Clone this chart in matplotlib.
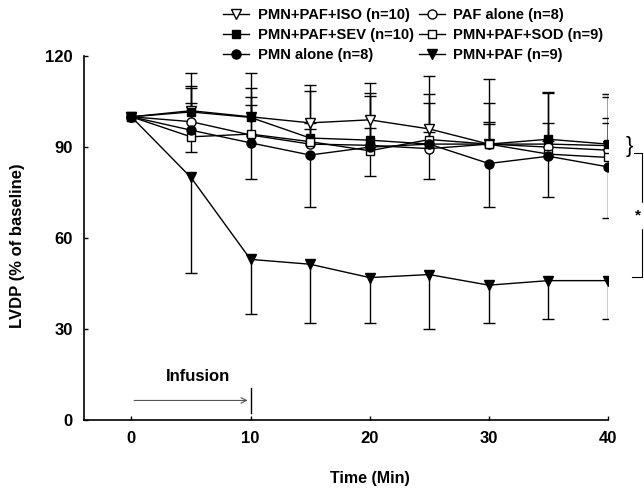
import matplotlib
matplotlib.use("Agg")
import matplotlib.pyplot as plt
import numpy as np

plt.rcParams['font.family'] = ['Liberation Sans', 'DejaVu Sans']
plt.rcParams['font.weight'] = 'bold'

time = [0, 5, 10, 15, 20, 25, 30, 35, 40]

labels = ["PMN+PAF+ISO (n=10)", "PAF alone (n=8)", "PMN+PAF+SEV (n=10)",
          "PMN+PAF+SOD (n=9)", "PMN alone (n=8)", "PMN+PAF (n=9)"]

iso_mean = [100, 102, 100, 98, 99, 96, 91, 91, 90.5]
paf_mean = [100, 98.4, 94, 91, 90.6, 89.5, 91, 90, 89]
sev_mean = [100, 101.6, 99.8, 93, 92.3, 91, 91, 92.6, 91]
sod_mean = [100, 93.4, 94.3, 91.8, 88.8, 92.5, 91, 87.7, 86.6]
pmn_mean = [100, 95.6, 91.4, 87.4, 90, 91, 84.6, 87, 83.5]
pmnpaf_mean = [100, 80, 53, 51.4, 47, 48, 44.5, 46, 46]

# error bar ends (upper for first four groups, lower for last two)
iso_top = [100, 114.4, 114.5, 110.5, 111, 113.5, 112.4, 108.3, 107.4]
sev_top = [100, 110, 109.5, 108.6, 107.7, 107.4, 104.5, 107.7, 106.6]
paf_top = [100, 109.5, 106.5, 98, 106.8, 104.5, 98.4, 97.9, 99.6]
sod_top = [100, 104.5, 104, 96, 96.3, 95, 97.6, 92, 97.9]
pmn_bot = [100, 88.4, 79.5, 70.2, 80.4, 79.5, 70.2, 73.5, 66.7]
pmnpaf_bot = [100, 48.5, 35, 32, 32, 30, 32, 33.5, 33.5]

fig = plt.figure(figsize=(6.44, 4.88), dpi=100)
ax = fig.add_axes([0.130, 0.139, 0.814, 0.746])

series = [
    (iso_mean, iso_top, 'v', 'white', labels[0]),
    (paf_mean, paf_top, 'o', 'white', labels[1]),
    (sev_mean, sev_top, 's', 'black', labels[2]),
    (sod_mean, sod_top, 's', 'white', labels[3]),
    (pmn_mean, pmn_bot, 'o', 'black', labels[4]),
    (pmnpaf_mean, pmnpaf_bot, 'v', 'black', labels[5]),
]

sizes = {'v': 7.5, 'o': 6.5, 's': 6.0}
handles = {}
for i, (m, e, mk, fc, lab) in enumerate(series):
    t = np.array(time[1:])
    ax.vlines(t, np.array(m[1:]), np.array(e[1:]), color='black', lw=1.0, zorder=2)
    ax.plot(t, e[1:], ls='none', marker='_', ms=8, mew=1.0, color='black', zorder=2)
    h, = ax.plot(time, m, color='black', lw=1.0, marker=mk, ms=sizes[mk],
                 mfc=fc, mec='black', mew=1.0, zorder=3 + i, label=lab)
    handles[lab] = h

ax.set_xlim(-4, 40)
ax.set_ylim(0, 120)
ax.set_xticks([0, 10, 20, 30, 40])
ax.set_yticks([0, 30, 60, 90, 120])
for s in ['top', 'right']:
    ax.spines[s].set_visible(False)
for s in ['left', 'bottom']:
    ax.spines[s].set_linewidth(1.2)
ax.tick_params(direction='in', length=3, width=1, labelsize=12, pad=8)
for lbl in ax.get_xticklabels() + ax.get_yticklabels():
    lbl.set_fontweight('bold')

ax.set_xlabel("Time (Min)", fontsize=11.5, fontweight='bold')
ax.xaxis.set_label_coords(0.545, -0.14)
ax.set_ylabel("LVDP (% of baseline)", fontsize=12, fontweight='bold')
ax.yaxis.set_label_coords(-0.112, 0.48)

# Infusion arrow
ax.annotate("", xy=(10, 6.5), xytext=(0, 6.5),
            arrowprops=dict(arrowstyle='->', color='#555555', lw=0.8))
ax.plot([10, 10], [2.3, 10.5], color='black', lw=1.0)
ax.text(5.6, 14.5, "Infusion", ha='center', va='center', fontsize=12, fontweight='bold')

# significance bracket
ax.text(41.8, 90.3, "}", ha='center', va='center', fontsize=16, fontweight='normal',
        clip_on=False)
ax.plot([42.2, 42.85, 42.85, 42.0], [88, 88, 47.1, 47.1], color='black', lw=0.8,
        clip_on=False)
ax.text(42.5, 67.5, "*", ha='center', va='center', fontsize=11, fontweight='bold',
        clip_on=False, backgroundcolor='white')

order = [labels[0], labels[2], labels[4], labels[1], labels[3], labels[5]]
fig.legend([handles[l] for l in order], order, loc='upper left',
           bbox_to_anchor=(223 / 644, 1 - 8 / 488), ncol=2, frameon=False,
           fontsize=10.6, handlelength=1.75, handletextpad=0.6,
           columnspacing=0.35, labelspacing=0.42, borderaxespad=0.0,
           borderpad=0.0)

fig.savefig("out.png", dpi=100)
